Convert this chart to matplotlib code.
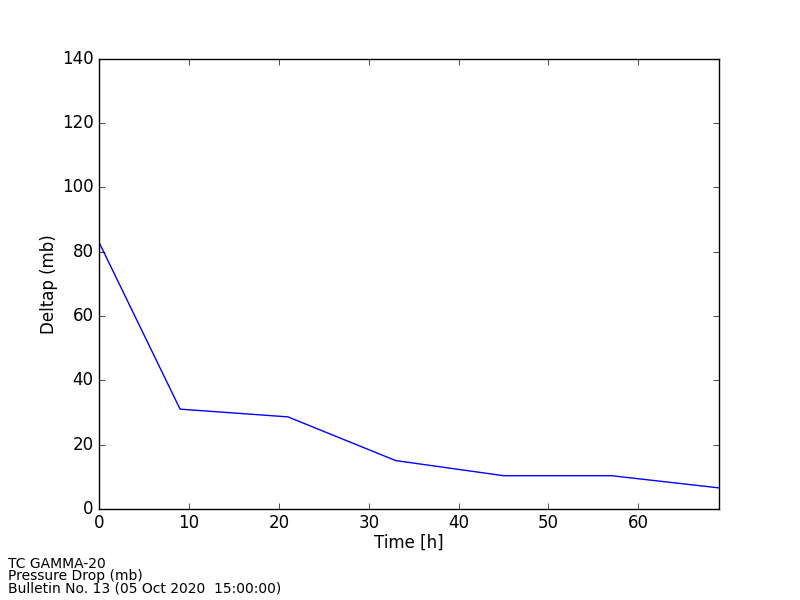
import matplotlib
matplotlib.use('Agg')
import matplotlib.pyplot as plt

hours = [0, 9, 21, 33, 45, 57, 69]
deltap = [82.8, 31.0, 28.6, 15.0, 10.3, 10.3, 6.5]

info = ['TC GAMMA-20', 'Pressure Drop (mb)', 'Bulletin No. 13 (05 Oct 2020  15:00:00)']

plt.style.use('classic')
fig = plt.figure(figsize=(8, 6), dpi=100, facecolor='white')
ax = fig.add_axes([0.124, 0.152, 0.775, 0.75])
ax.plot(hours, deltap, color='b', linewidth=1)
ax.set_xlim(0, 69)
ax.set_ylim(0, 140)
ax.set_xticks(range(0, 70, 10))
ax.set_yticks(range(0, 141, 20))
ax.set_xlabel('Time [h]', labelpad=1)
ax.set_ylabel('Deltap (mb)', labelpad=3)

fig.text(0.01, 0.008, '\n'.join(info), fontsize=10, va='bottom', ha='left', linespacing=0.82)

fig.savefig('out.png', dpi=100, facecolor='white')
